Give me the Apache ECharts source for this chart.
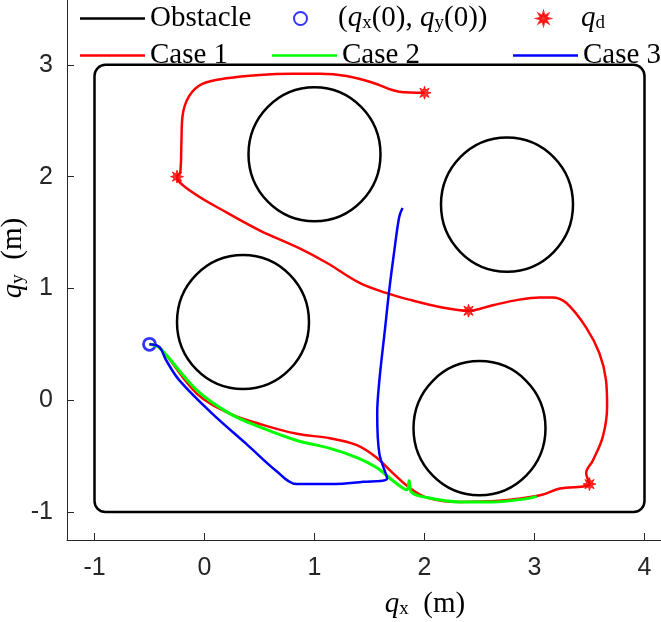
<!DOCTYPE html>
<html>
<head>
<meta charset="utf-8">
<script src="https://cdn.jsdelivr.net/npm/echarts@6/dist/echarts.min.js"></script>
<style>
  html, body { margin: 0; padding: 0; background: #fff; }
  #chart { width: 661px; height: 622px; }
</style>
</head>
<body>
<div id="chart"></div>
<script>
// tick values on each axis
const xTicks = [-1, 0, 1, 2, 3, 4];
const yTicks = [-1, 0, 1, 2, 3];

// obstacles: outer wall [x0, y0, x1, y1] and round obstacles [cx, cy, r]
const wall = [[-1, -1, 4, 3]];
const circles = [[1.0, 2.2, 0.6], [2.75, 1.75, 0.6], [0.35, 0.7, 0.6], [2.5, -0.25, 0.6]];

// initial position and goal points
const startPoint = [[-0.5, 0.5]];
const goalPoints = [[3.5, -0.75], [2.4, 0.8], [-0.25, 2.0], [2.0, 2.75]];

// trajectories
const case1 = [
  [-0.5, 0.5], [-0.41, 0.475], [-0.07, 0.06], [0.23, -0.12], [0.53, -0.22], [0.84, -0.3],
  [1.14, -0.34], [1.38, -0.4], [1.56, -0.51], [1.71, -0.65], [1.86, -0.78], [2.02, -0.87],
  [2.32, -0.91], [2.68, -0.9], [3.05, -0.85], [3.23, -0.79], [3.5, -0.75],
  [3.47, -0.65], [3.53, -0.54], [3.62, -0.33], [3.66, -0.06], [3.65, 0.18], [3.59, 0.42],
  [3.47, 0.65], [3.29, 0.87], [3.16, 0.92], [3.05, 0.92], [2.86, 0.9], [2.62, 0.85], [2.4, 0.8],
  [2.16, 0.83], [1.86, 0.9], [1.65, 0.96], [1.41, 1.05], [1.11, 1.23], [0.86, 1.36],
  [0.5, 1.52], [0.2, 1.68], [-0.11, 1.86], [-0.25, 2.0],
  [-0.22, 2.04], [-0.21, 2.3], [-0.2, 2.54], [-0.14, 2.72], [-0.02, 2.83], [0.2, 2.88],
  [0.5, 2.91], [0.8, 2.92], [1.05, 2.92], [1.29, 2.9], [1.53, 2.84], [1.77, 2.76], [2.0, 2.75]
];
const case2 = [
  [-0.5, 0.5], [-0.41, 0.47], [-0.07, 0.09], [0.23, -0.12], [0.53, -0.25], [0.84, -0.36],
  [1.14, -0.43], [1.38, -0.51], [1.56, -0.6], [1.74, -0.74], [1.84, -0.8], [1.86, -0.72],
  [1.88, -0.82], [2.02, -0.87], [2.32, -0.91], [2.62, -0.91], [2.93, -0.88], [3.02, -0.86]
];
const case3 = [
  [-0.5, 0.5], [-0.41, 0.475], [-0.35, 0.36], [-0.23, 0.18], [0.07, -0.12], [0.38, -0.39],
  [0.65, -0.63], [0.84, -0.75], [1.14, -0.75], [1.44, -0.73], [1.66, -0.7],
  [1.59, -0.48], [1.57, -0.12], [1.59, 0.18], [1.64, 0.63], [1.68, 0.99], [1.73, 1.37],
  [1.77, 1.64], [1.8, 1.72]
];

const serif = 'Liberation Serif';
const sans = 'Liberation Sans';
const axisColor = '#262626';

// 8-armed asterisk marker, filled
const starPath = 'path://M0,-1L0.17,-0.42L0.707,-0.707L0.42,-0.17L1,0L0.42,0.17L0.707,0.707L0.17,0.42' +
  'L0,1L-0.17,0.42L-0.707,0.707L-0.42,0.17L-1,0L-0.42,-0.17L-0.707,-0.707L-0.17,-0.42Z';

// rich text styles for the latex-like labels
const rich = {
  q: { fontFamily: serif, fontStyle: 'italic', fontSize: 29, color: '#000' },
  t: { fontFamily: serif, fontSize: 29, color: '#000' },
  s: { fontFamily: serif, fontSize: 19, color: '#000', verticalAlign: 'bottom', padding: [10, 0, 0, 0] }
};

const labelText = {
  'Obstacle': '{t|Obstacle}',
  'start': '{t|(}{q|q}{s|x}{t|(0), }{q|q}{s|y}{t|(0))}',
  'goal': '{q|q}{s|d}',
  'Case 1': '{t|Case 1}',
  'Case 2': '{t|Case 2}',
  'Case 3': '{t|Case 3}'
};

// one legend per entry so each sits where it does in the picture
function legendAt(name, left, top, isLine) {
  return {
    data: [isLine ? { name: name, icon: 'rect' } : name],
    left: left,
    top: top,
    itemWidth: 65,
    itemHeight: isLine ? 2.5 : 13,
    itemGap: 6,
    selectedMode: false,
    formatter: n => labelText[n],
    textStyle: { rich: rich, padding: [0, 0, 0, 0] }
  };
}

const chart = echarts.init(document.getElementById('chart'));

chart.setOption({
  animation: false,
  grid: { left: 67, right: 0, top: 0, bottom: 82, outerBoundsMode: 'none', containLabel: false },
  legend: [
    legendAt('Obstacle', 75, -1, true),
    legendAt('start', 288, -1, false),
    legendAt('goal', 531, -1, false),
    legendAt('Case 1', 75, 36, true),
    legendAt('Case 2', 267, 36, true),
    legendAt('Case 3', 508, 36, true)
  ],
  xAxis: {
    type: 'value',
    min: -1.25,
    max: 4.15,
    name: '{q|q}{s|x}{t|  (m)}',
    nameLocation: 'middle',
    nameGap: 50,
    nameMoveOverlap: false,
    nameTextStyle: { rich: rich, padding: [0, 0, 0, 122] },
    axisLine: { onZero: false, lineStyle: { color: axisColor, width: 1 } },
    axisTick: { inside: true, length: 7, customValues: xTicks, lineStyle: { color: axisColor } },
    axisLabel: { customValues: xTicks, margin: 16, fontFamily: sans, fontSize: 25, color: axisColor },
    splitLine: { show: false }
  },
  yAxis: {
    type: 'value',
    min: -1.25,
    max: 3.58,
    name: '{q|q}{s|y}{t|  (m)}',
    nameLocation: 'middle',
    nameGap: 39,
    nameRotate: 90,
    nameMoveOverlap: false,
    nameTextStyle: { rich: rich, padding: [0, 0, 0, 24] },
    axisLine: { onZero: false, lineStyle: { color: axisColor, width: 1 } },
    axisTick: { inside: true, length: 7, customValues: yTicks, lineStyle: { color: axisColor } },
    axisLabel: { customValues: yTicks, margin: 14, fontFamily: sans, fontSize: 25, color: axisColor },
    splitLine: { show: false }
  },
  series: [
    {
      name: 'Obstacle',
      type: 'custom',
      data: wall,
      itemStyle: { color: '#000' },
      renderItem: (params, api) => {
        const p0 = api.coord([api.value(0), api.value(3)]);
        const p1 = api.coord([api.value(2), api.value(1)]);
        return {
          type: 'rect',
          shape: { x: p0[0], y: p0[1], width: p1[0] - p0[0], height: p1[1] - p0[1], r: 11 },
          style: { fill: 'none', stroke: '#000', lineWidth: 2.5 }
        };
      }
    },
    {
      name: 'Obstacle',
      type: 'custom',
      data: circles,
      itemStyle: { color: '#000' },
      renderItem: (params, api) => {
        const c = api.coord([api.value(0), api.value(1)]);
        const s = api.size([api.value(2), api.value(2)]);
        return {
          type: 'ellipse',
          shape: { cx: c[0], cy: c[1], rx: s[0], ry: s[1] },
          style: { fill: 'none', stroke: '#000', lineWidth: 2.5 }
        };
      }
    },
    {
      name: 'Case 1', type: 'line', data: case1, smooth: 0.35, symbol: 'none',
      itemStyle: { color: '#ff0000' }, lineStyle: { color: '#ff0000', width: 2.5 }
    },
    {
      name: 'Case 2', type: 'line', data: case2, smooth: 0.35, symbol: 'none',
      itemStyle: { color: '#00ff00' }, lineStyle: { color: '#00ff00', width: 3 }
    },
    {
      name: 'Case 3', type: 'line', data: case3, smooth: 0.35, symbol: 'none',
      itemStyle: { color: '#0000ff' }, lineStyle: { color: '#0000ff', width: 2.5 }
    },
    {
      name: 'start', type: 'scatter', data: startPoint, symbol: 'circle', symbolSize: 12,
      itemStyle: { color: 'rgba(255,255,255,0)', borderColor: '#0000ff', borderWidth: 2.8 }
    },
    {
      name: 'goal', type: 'scatter', data: goalPoints, symbol: starPath, symbolSize: 13,
      itemStyle: { color: '#ff0000', borderColor: '#ff0000', borderWidth: 1 }
    }
  ]
});
</script>
</body>
</html>
